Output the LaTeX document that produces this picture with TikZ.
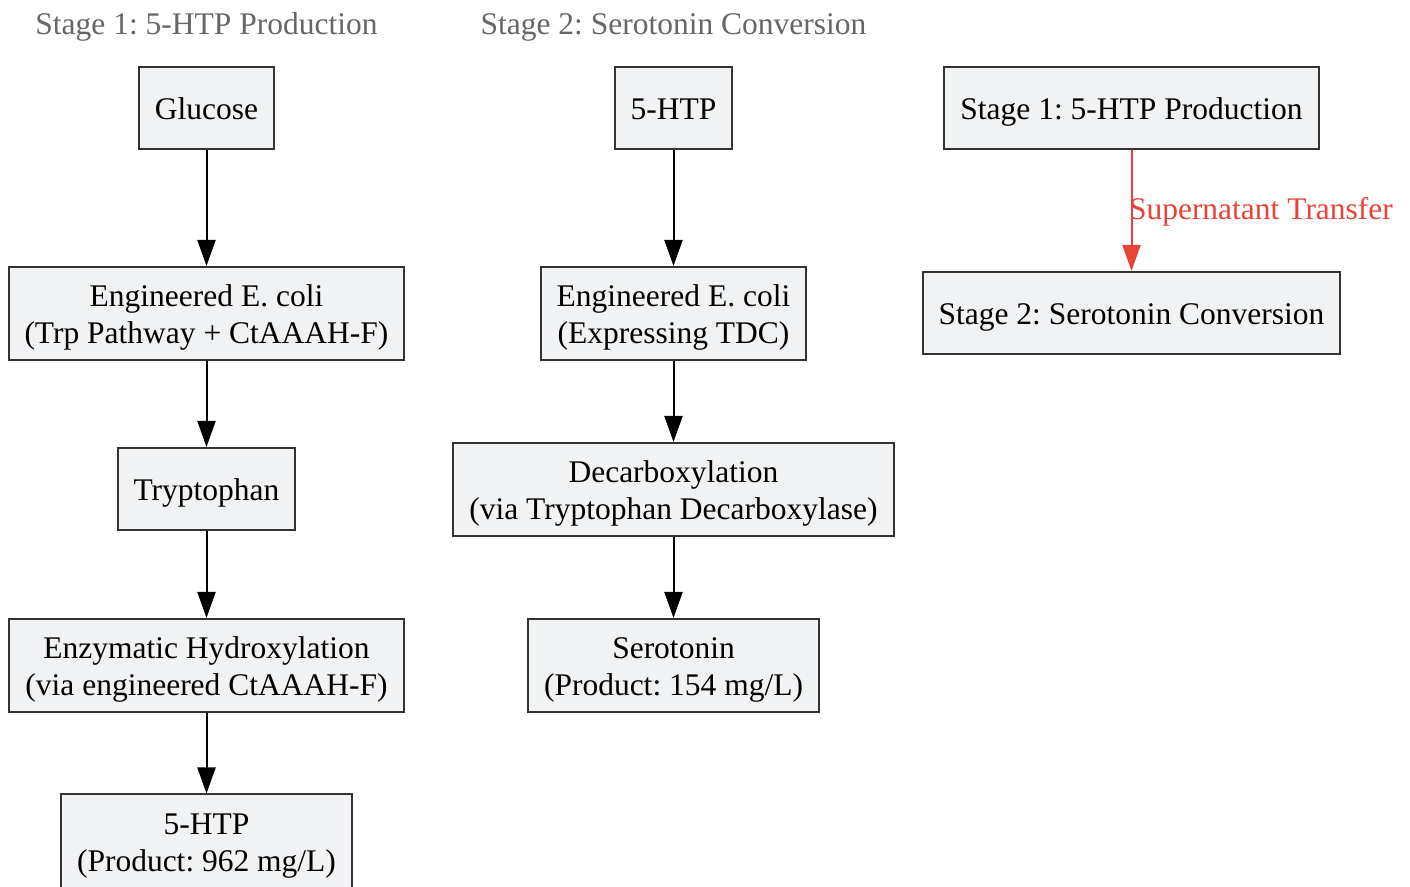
\documentclass[tikz,border=0pt]{standalone}
\usepackage{fontspec}
\setmainfont{Liberation Serif}
\usetikzlibrary{arrows.meta, positioning}
\definecolor{boxfill}{RGB}{241,242,244}
\definecolor{boxline}{RGB}{51,51,51}
\definecolor{transferred}{RGB}{231,68,55}
\definecolor{titlegray}{RGB}{102,102,102}
\frenchspacing
\newcommand{\lift}{\rule{0pt}{15.2pt}}

\tikzset{
  flowfont/.style={font=\fontsize{15.75}{18.5}\selectfont},
  flowbox/.style={draw=boxline, fill=boxfill, line width=1pt, align=center,
    inner xsep=8pt, inner ysep=0pt, minimum height=41pt, flowfont,
    text height=15pt, text depth=3pt},
  twoline/.style={draw=boxline, fill=boxfill, line width=1pt, align=center,
    inner xsep=8pt, inner ysep=0pt, minimum height=46.5pt, flowfont},
  stagetitle/.style={text=titlegray, flowfont, text height=15pt, text depth=3pt},
  flow/.style={line width=1pt, -{Triangle[length=13pt, width=9pt]}},
  transfer/.style={flow, draw=transferred, fill=transferred}
}

\begin{document}
\begin{tikzpicture}[x=0.5pt, y=-0.5pt]
\useasboundingbox (0,0) rectangle (1410,887);

% Stage titles
\node[stagetitle] (title1) at (206.5, 23) {Stage 1: 5-HTP Production};
\node[stagetitle] (title2) at (673.5, 23) {Stage 2: Serotonin Conversion};

% Stage 1 column
\node[flowbox] (glucose) at (206.5, 108) {Glucose};
\node[twoline] (ecoli1) at (206.5, 313.5) {\lift Engineered E. coli\\(Trp Pathway + CtAAAH-F)};
\node[flowbox] (trp) at (206.5, 489) {Tryptophan};
\node[twoline] (hydrox) at (206.5, 665.5) {\lift Enzymatic Hydroxylation\\(via engineered CtAAAH-F)};
\node[twoline] (htp1) at (206.5, 841) {\lift 5-HTP\\(Product: 962 mg/L)};

% Stage 2 column
\node[flowbox] (htp2) at (673.5, 108) {5-HTP};
\node[twoline] (ecoli2) at (673.5, 313.5) {\lift Engineered E. coli\\(Expressing TDC)};
\node[twoline] (decarb) at (673.5, 489.5) {\lift Decarboxylation\\(via Tryptophan Decarboxylase)};
\node[twoline] (sero) at (673.5, 665.5) {\lift Serotonin\\(Product: 154 mg/L)};

% Overview
\node[flowbox] (stageone) at (1131.5, 108) {Stage 1: 5-HTP Production};
\node[flowbox] (stagetwo) at (1131.5, 313) {Stage 2: Serotonin Conversion};

% Connections
\foreach \a/\b in {glucose/ecoli1, ecoli1/trp, trp/hydrox, hydrox/htp1,
                   htp2/ecoli2, ecoli2/decarb, decarb/sero} {
    \draw[flow] (\a) -- (\b);
}
\draw[transfer] (stageone) -- node[anchor=west, inner sep=0pt, xshift=-1.75pt,
    yshift=1.5pt, text=transferred, flowfont, text height=15pt, text depth=3pt]
    (transferlabel) {Supernatant Transfer} (stagetwo);
\end{tikzpicture}
\end{document}
